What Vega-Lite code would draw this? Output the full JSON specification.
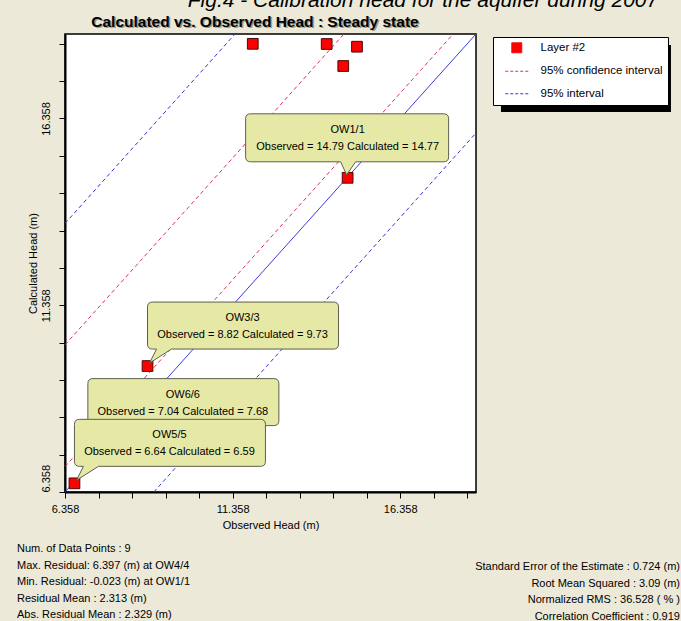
{
  "$schema": "https://vega.github.io/schema/vega-lite/v6.json",
  "width": 411,
  "height": 458,
  "autosize": {"type": "none"},
  "padding": {"left": 65, "top": 34, "right": 205, "bottom": 129},
  "background": "#ECE9D8",
  "config": {
    "view": {"stroke": "#000", "strokeWidth": 1.5, "fill": "white"},
    "font": "Liberation Sans"
  },
  "datasets": {
    "wells": [
      {"well": "OW1/1", "observed": 14.79, "calculated": 14.77, "series": "Layer #2", "callout": "OW1/1\nObserved = 14.79 Calculated = 14.77"},
      {"well": "OW3/3", "observed": 8.82, "calculated": 9.73, "series": "Layer #2", "callout": "OW3/3\nObserved = 8.82 Calculated = 9.73"},
      {"well": "OW6/6", "observed": 7.04, "calculated": 7.68, "series": "Layer #2", "callout": "OW6/6\nObserved = 7.04 Calculated = 7.68"},
      {"well": "OW5/5", "observed": 6.64, "calculated": 6.59, "series": "Layer #2", "callout": "OW5/5\nObserved = 6.64 Calculated = 6.59"},
      {"well": "OW4/4", "observed": 11.96, "calculated": 18.357, "series": "Layer #2"},
      {"well": "", "observed": 14.165, "calculated": 18.352, "series": "Layer #2"},
      {"well": "", "observed": 15.069, "calculated": 18.28, "series": "Layer #2"},
      {"well": "", "observed": 14.66, "calculated": 17.763, "series": "Layer #2"}
    ],
    "lines": [
      {"line": "1:1", "series": "1:1", "observed": 6.358, "calculated": 6.358},
      {"line": "1:1", "series": "1:1", "observed": 18.62, "calculated": 18.62},
      {"line": "ci-upper", "series": "95% confidence interval", "observed": 6.358, "calculated": 10.298},
      {"line": "ci-upper", "series": "95% confidence interval", "observed": 14.68, "calculated": 18.62},
      {"line": "ci-lower", "series": "95% confidence interval", "observed": 6.358, "calculated": 7.038},
      {"line": "ci-lower", "series": "95% confidence interval", "observed": 17.94, "calculated": 18.62},
      {"line": "pi-upper", "series": "95% interval", "observed": 6.358, "calculated": 13.548},
      {"line": "pi-upper", "series": "95% interval", "observed": 11.43, "calculated": 18.62},
      {"line": "pi-lower", "series": "95% interval", "observed": 9.008, "calculated": 6.358},
      {"line": "pi-lower", "series": "95% interval", "observed": 18.62, "calculated": 15.97}
    ]
  },
  "layer": [
    {
      "data": {"values": [{}]},
      "mark": {"type": "rect", "fill": "#000", "clip": false},
      "encoding": {
        "x": {"datum": 19.365, "type": "quantitative"},
        "x2": {"datum": 24.437},
        "y": {"datum": 18.325, "type": "quantitative"},
        "y2": {"datum": 16.532}
      }
    },
    {
      "data": {"name": "lines"},
      "transform": [{"filter": "datum.line !== '1:1'"}],
      "mark": {"type": "line", "strokeDash": [4, 3], "strokeWidth": 1, "clip": true},
      "encoding": {
        "x": {
          "field": "observed", "type": "quantitative",
          "scale": {"domain": [6.358, 18.62], "nice": false, "zero": false},
          "axis": {
            "title": "Observed Head (m)",
            "values": [6.358, 7.358, 8.358, 9.358, 10.358, 11.358, 12.358, 13.358, 14.358, 15.358, 16.358, 17.358, 18.358],
            "tickCount": 40,
            "format": ".3f",
            "labelExpr": "indexof(['6.358','11.358','16.358'], datum.label) >= 0 ? datum.label : ''",
            "grid": false, "tickSize": 6, "tickColor": "#000", "domainColor": "#000", "domainWidth": 2,
            "labelColor": "#000", "labelFontSize": 11, "labelFont": "Liberation Sans", "labelPadding": 5,
            "labelFlush": false, "labelOverlap": false,
            "titleFont": "Liberation Sans", "titleFontSize": 11, "titleFontWeight": "normal", "titleColor": "#000", "titlePadding": 5
          }
        },
        "y": {
          "field": "calculated", "type": "quantitative",
          "scale": {"domain": [6.358, 18.62], "nice": false, "zero": false},
          "axis": {
            "title": "Calculated Head (m)",
            "values": [6.358, 7.358, 8.358, 9.358, 10.358, 11.358, 12.358, 13.358, 14.358, 15.358, 16.358, 17.358, 18.358],
            "tickCount": 40,
            "format": ".3f",
            "labelExpr": "indexof(['6.358','11.358','16.358'], datum.label) >= 0 ? datum.label : ''",
            "labelAngle": -90,
            "labelAlign": {"condition": {"test": "datum.value < 7", "value": "left"}, "value": "center"},
            "labelBaseline": "bottom",
            "grid": false, "tickSize": 6, "tickColor": "#000", "domainColor": "#000", "domainWidth": 2,
            "labelColor": "#000", "labelFontSize": 11, "labelFont": "Liberation Sans", "labelPadding": 8,
            "labelFlush": false, "labelOverlap": false,
            "titleFont": "Liberation Sans", "titleFontSize": 11, "titleFontWeight": "normal", "titleColor": "#000", "titlePadding": 2
          }
        },
        "detail": {"field": "line"},
        "color": {
          "field": "series", "type": "nominal",
          "scale": {"domain": ["Layer #2", "95% confidence interval", "95% interval"], "range": ["#ff0000", "#dd3355", "#3a34d0"]},
          "legend": {
            "orient": "none", "legendX": 428, "legendY": 3, "title": null,
            "fillColor": "white", "strokeColor": "#000", "padding": 5,
            "labelFont": "Liberation Sans", "labelFontSize": 11.5, "labelColor": "#000",
            "rowPadding": 9.5, "symbolOffset": 13, "labelOffset": 18, "symbolSize": 100,
            "encode": {
              "symbols": {
                "update": {
                  "shape": {"signal": "datum.value === 'Layer #2' ? 'square' : 'M-2.3,0L2.3,0'"},
                  "fill": {"signal": "datum.value === 'Layer #2' ? '#ff0000' : 'transparent'"},
                  "stroke": [
                    {"test": "datum.value === 'Layer #2'", "value": "#4a0a0a"},
                    {"test": "datum.value === '95% interval'", "value": "#2020e0"},
                    {"value": "#ee1144"}
                  ],
                  "strokeDash": {"signal": "datum.value === 'Layer #2' ? [1, 0] : [3, 2]"},
                  "strokeWidth": {"value": 1},
                  "strokeOpacity": {"value": 1},
                  "opacity": {"value": 1}
                }
              }
            }
          }
        }
      }
    },
    {
      "data": {"name": "lines"},
      "transform": [{"filter": "datum.line === '1:1'"}],
      "mark": {"type": "line", "color": "#3b3bdc", "strokeWidth": 1, "clip": true},
      "encoding": {
        "x": {"field": "observed", "type": "quantitative"},
        "y": {"field": "calculated", "type": "quantitative"}
      }
    },
    {
      "data": {"name": "wells"},
      "mark": {"type": "point", "shape": "square", "filled": true, "size": 115, "stroke": "#4a0a0a", "strokeWidth": 1, "opacity": 1},
      "encoding": {
        "x": {"field": "observed", "type": "quantitative"},
        "y": {"field": "calculated", "type": "quantitative"},
        "color": {"field": "series", "type": "nominal"}
      }
    },
    {
      "data": {"name": "wells"},
      "transform": [{"filter": "datum.well === 'OW1/1'"}],
      "mark": {
        "type": "point", "filled": true, "size": 4, "opacity": 1,
        "fill": "#e6e9a6", "stroke": "#5e5e4e", "strokeWidth": 1,
        "shape": "M-1,-3L8,-16L96,-16Q101,-16 101,-21L101,-59Q101,-64 96,-64L-97,-64Q-102,-64 -102,-59L-102,-21Q-102,-16 -97,-16L-7,-16Z"
      },
      "encoding": {
        "x": {"field": "observed", "type": "quantitative"},
        "y": {"field": "calculated", "type": "quantitative"}
      }
    },
    {
      "data": {"name": "wells"},
      "transform": [{"filter": "indexof(['OW3/3','OW6/6','OW5/5'], datum.well) >= 0"}],
      "mark": {
        "type": "point", "filled": true, "size": 4, "opacity": 1,
        "fill": "#e6e9a6", "stroke": "#5e5e4e", "strokeWidth": 1,
        "shape": "M2,-3L24,-17L186,-17Q191,-17 191,-22L191,-59Q191,-64 186,-64L5,-64Q0,-64 0,-59L0,-22Q0,-17 5,-17L9,-17Z"
      },
      "encoding": {
        "x": {"field": "observed", "type": "quantitative"},
        "y": {"field": "calculated", "type": "quantitative"}
      }
    },
    {
      "data": {"name": "wells"},
      "transform": [{"filter": "datum.well === 'OW1/1'"}],
      "mark": {"type": "text", "lineBreak": "\n", "lineHeight": 17, "font": "Liberation Sans", "fontSize": 11, "color": "#000", "align": "center", "baseline": "middle", "dy": -48},
      "encoding": {
        "x": {"field": "observed", "type": "quantitative"},
        "y": {"field": "calculated", "type": "quantitative"},
        "text": {"field": "callout"}
      }
    },
    {
      "data": {"name": "wells"},
      "transform": [{"filter": "indexof(['OW3/3','OW6/6','OW5/5'], datum.well) >= 0"}],
      "mark": {"type": "text", "lineBreak": "\n", "lineHeight": 17, "font": "Liberation Sans", "fontSize": 11, "color": "#000", "align": "center", "baseline": "middle", "dx": 95, "dy": -48},
      "encoding": {
        "x": {"field": "observed", "type": "quantitative"},
        "y": {"field": "calculated", "type": "quantitative"},
        "text": {"field": "callout"}
      }
    },
    {
      "data": {"values": [{}]},
      "mark": {
        "type": "text", "font": "Liberation Sans", "fontSize": 11, "color": "#000", "align": "left", "baseline": "top", "lineHeight": 16.5,
        "text": ["Num. of Data Points : 9", "Max. Residual: 6.397 (m) at OW4/4", "Min. Residual: -0.023 (m) at OW1/1", "Residual Mean : 2.313 (m)", "Abs. Residual Mean : 2.329 (m)"]
      },
      "encoding": {
        "x": {"datum": 4.926, "type": "quantitative"},
        "y": {"datum": 4.984, "type": "quantitative"}
      }
    },
    {
      "data": {"values": [{}]},
      "mark": {
        "type": "text", "font": "Liberation Sans", "fontSize": 11, "color": "#000", "align": "right", "baseline": "top", "lineHeight": 16.5,
        "text": ["Standard Error of the Estimate : 0.724 (m)", "Root Mean Squared : 3.09 (m)", "Normalized RMS : 36.528 ( % )", "Correlation Coefficient : 0.919"]
      },
      "encoding": {
        "x": {"datum": 24.705, "type": "quantitative"},
        "y": {"datum": 4.502, "type": "quantitative"}
      }
    },
    {
      "data": {"values": [{}]},
      "mark": {
        "type": "text", "font": "Liberation Sans", "fontSize": 21, "fontStyle": "italic", "color": "#000", "align": "center", "baseline": "alphabetic",
        "text": "Fig.4 - Calibration head for the aquifer during 2007"
      },
      "encoding": {
        "x": {"datum": 17.038, "type": "quantitative"},
        "y": {"datum": 19.34, "type": "quantitative"}
      }
    },
    {
      "data": {"values": [{}]},
      "mark": {
        "type": "text", "font": "Liberation Sans", "fontSize": 15.5, "fontWeight": "bold",
        "color": "#9a9a90", "align": "center", "baseline": "middle", "dx": 1.5, "dy": 1.5,
        "text": "Calculated vs. Observed Head : Steady state"
      },
      "encoding": {
        "x": {"datum": 12.026, "type": "quantitative"},
        "y": {"datum": 18.95, "type": "quantitative"}
      }
    },
    {
      "data": {"values": [{}]},
      "mark": {
        "type": "text", "font": "Liberation Sans", "fontSize": 15.5, "fontWeight": "bold",
        "color": "#000", "align": "center", "baseline": "middle",
        "text": "Calculated vs. Observed Head : Steady state"
      },
      "encoding": {
        "x": {"datum": 12.026, "type": "quantitative"},
        "y": {"datum": 18.95, "type": "quantitative"}
      }
    }
  ]
}
